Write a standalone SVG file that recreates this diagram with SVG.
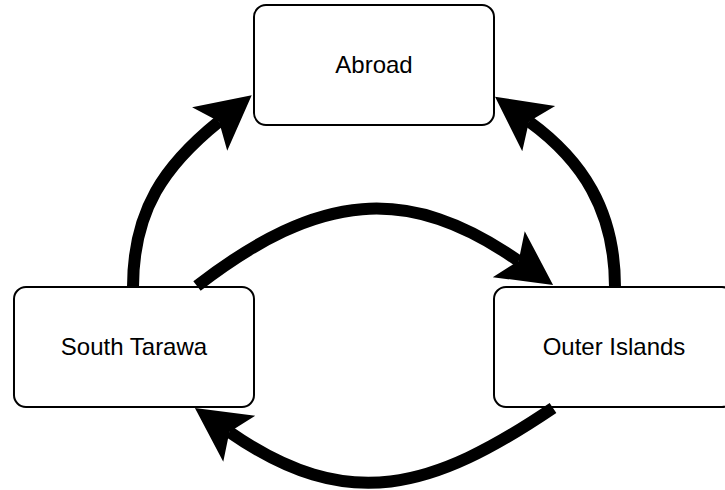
<svg xmlns="http://www.w3.org/2000/svg" width="725" height="490" viewBox="0 0 725 490">
  <style>
    .box { fill: #ffffff; stroke: #000000; stroke-width: 2; }
    .label { font-family: "Liberation Sans", Arial, sans-serif; font-size: 24px; fill: #000000; text-anchor: middle; }
    .edge { fill: none; stroke: #000000; stroke-width: 12; stroke-linecap: butt; }
  </style>
  <defs>
    <marker id="arrow" markerUnits="userSpaceOnUse" viewBox="-2 -30 60 60" markerWidth="60" markerHeight="60" refX="12" refY="0" orient="auto" overflow="visible">
      <path d="M0,-28 L54,0 L0,28 L12,0 Z" fill="#000000"/>
    </marker>
  </defs>
  <rect x="0" y="0" width="725" height="490" fill="#ffffff"/>
  <g id="node-abroad">
    <rect class="box" x="254" y="5" width="240" height="120" rx="12" ry="12"/>
    <text class="label" x="374" y="73">Abroad</text>
  </g>
  <g id="node-south-tarawa">
    <rect class="box" x="14" y="287" width="240" height="120" rx="12" ry="12"/>
    <text class="label" x="134" y="355">South Tarawa</text>
  </g>
  <g id="node-outer-islands">
    <rect class="box" x="494" y="287" width="240" height="120" rx="12" ry="12"/>
    <text class="label" x="614" y="355">Outer Islands</text>
  </g>
  <g id="connectors">
    <path class="edge" d="M133,287 C133,210 165,165 219,121.5" marker-end="url(#arrow)"/>
    <path class="edge" d="M615,287 C615,210 582,160 529,121.5" marker-end="url(#arrow)"/>
    <path class="edge" d="M197,286 C319.5,191.5 407.9,184 518.6,261" marker-end="url(#arrow)"/>
    <path class="edge" d="M553,408 C432.7,489.2 348.3,514.7 229.4,432" marker-end="url(#arrow)"/>
  </g>
</svg>
